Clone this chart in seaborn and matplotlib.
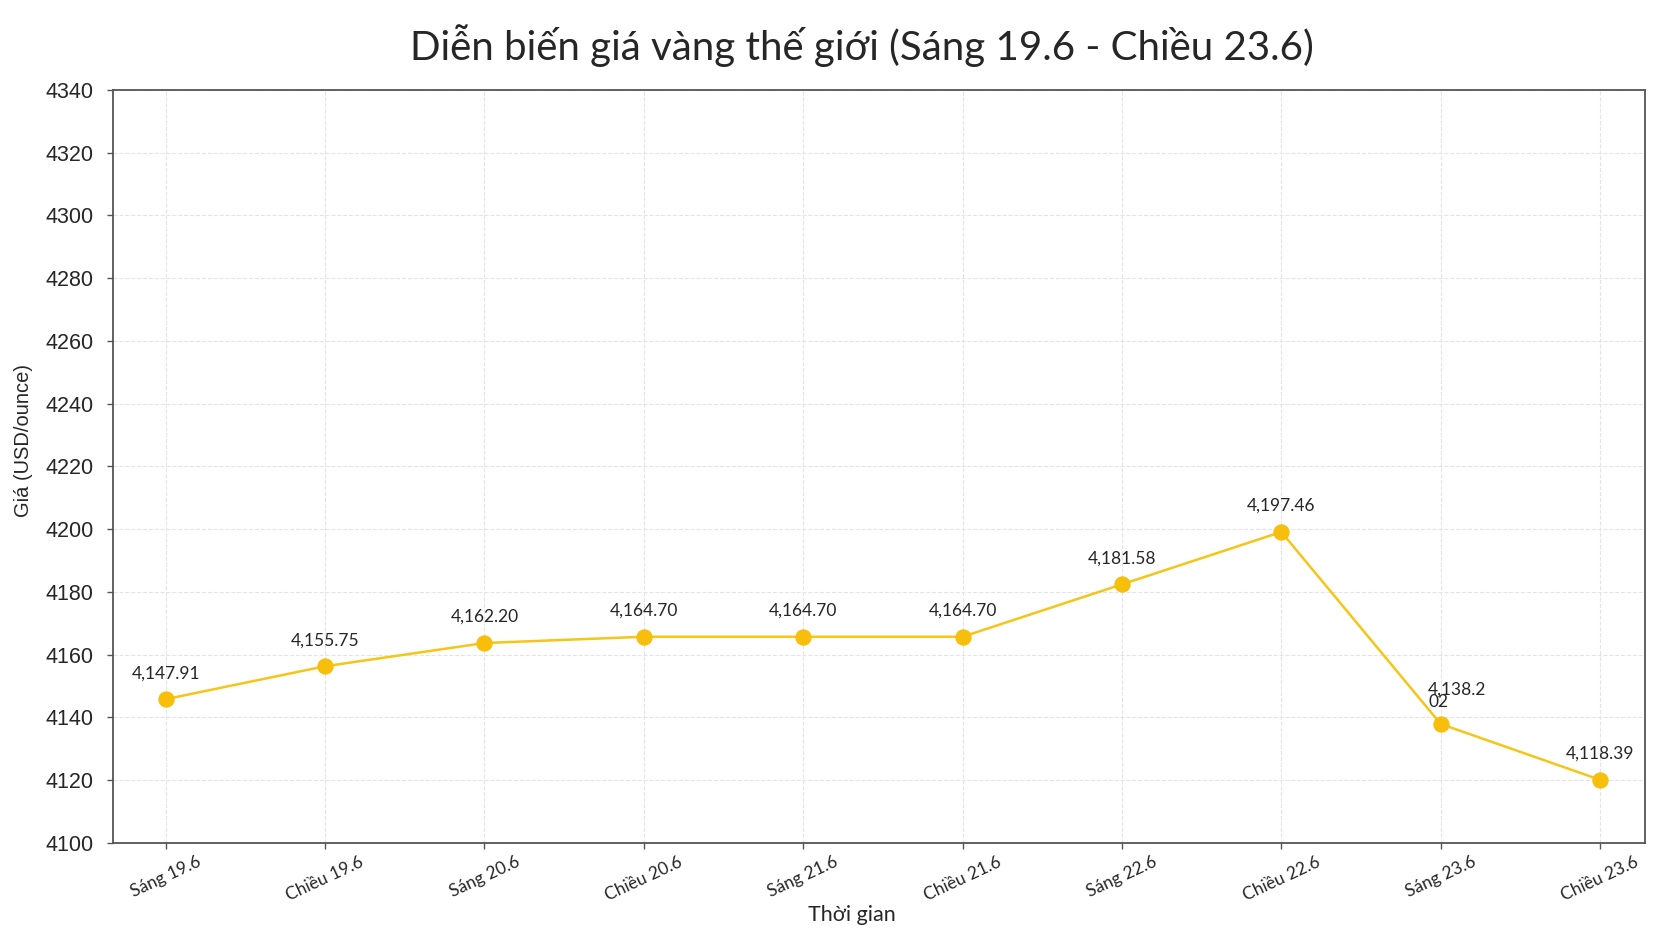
import matplotlib
matplotlib.use("Agg")
import matplotlib.pyplot as plt
import seaborn as sns
import pandas as pd

# data
times = ["Sáng 19.6", "Chiều 19.6", "Sáng 20.6", "Chiều 20.6", "Sáng 21.6",
         "Chiều 21.6", "Sáng 22.6", "Chiều 22.6", "Sáng 23.6", "Chiều 23.6"]
prices = [4145.8, 4156.3, 4163.7, 4165.7, 4165.7, 4165.7, 4182.4, 4199.1, 4137.9, 4120.1]
point_labels = ["4,147.91", "4,155.75", "4,162.20", "4,164.70", "4,164.70",
                "4,164.70", "4,181.58", "4,197.46", "4,138.2\n02", "4,118.39"]
yticks = list(range(4100, 4341, 20))

df = pd.DataFrame({"idx": range(len(times)), "price": prices})

sns.set_style("white")
plt.rcParams["font.family"] = ["Lato", "DejaVu Sans"]

fig = plt.figure(figsize=(16.63, 9.46), dpi=100)
ax = fig.add_axes([0.068, 0.109, 0.921, 0.796])

gold = "#F5C518"
sns.lineplot(data=df, x="idx", y="price", ax=ax, color=gold, linewidth=1.8,
             marker="o", markersize=11, markerfacecolor="#F7BF0B",
             markeredgecolor="#F7BF0B")

# value labels
for i, (p, lab) in enumerate(zip(prices, point_labels)):
    if "\n" in lab:
        ax.annotate(lab, (i, p), xytext=(-9, 10), textcoords="offset points",
                    ha="left", va="bottom", fontsize=12.5, linespacing=0.75)
    else:
        ax.annotate(lab, (i, p), xytext=(0, 13), textcoords="offset points",
                    ha="center", va="bottom", fontsize=12.5)

ax.set_xlim(-0.33, 9.28)
ax.set_ylim(4100, 4340)
ax.set_yticks(yticks)
ax.set_xticks(range(len(times)))
ax.set_xticklabels(times, rotation=25, ha="center", fontsize=12.5)
for t in ax.get_yticklabels():
    t.set_fontfamily("Liberation Sans")
    t.set_fontsize(15.5)
ax.tick_params(axis="both", which="both", length=4, width=1, color="#555555",
               direction="out", left=True, bottom=True)
ax.tick_params(axis="y", pad=10)
ax.tick_params(axis="x", pad=4)

ax.grid(True, linestyle="--", color="#e4e4e4", linewidth=0.8)
for s in ax.spines.values():
    s.set_color("#555555")
    s.set_linewidth(1.3)

ax.set_xlabel("")
ax.set_ylabel("")
fig.text(0.512, 0.033, "Thời gian", ha="center", va="center", fontsize=15.5)
fig.text(0.014, 0.534, "Giá (USD/ounce)", ha="center", va="center",
         rotation=90, fontsize=14.5, family="Liberation Sans")
fig.text(0.518, 0.952, "Diễn biến giá vàng thế giới (Sáng 19.6 - Chiều 23.6)",
         ha="center", va="center", fontsize=29)

fig.savefig("out.png", dpi=100, facecolor="white")
